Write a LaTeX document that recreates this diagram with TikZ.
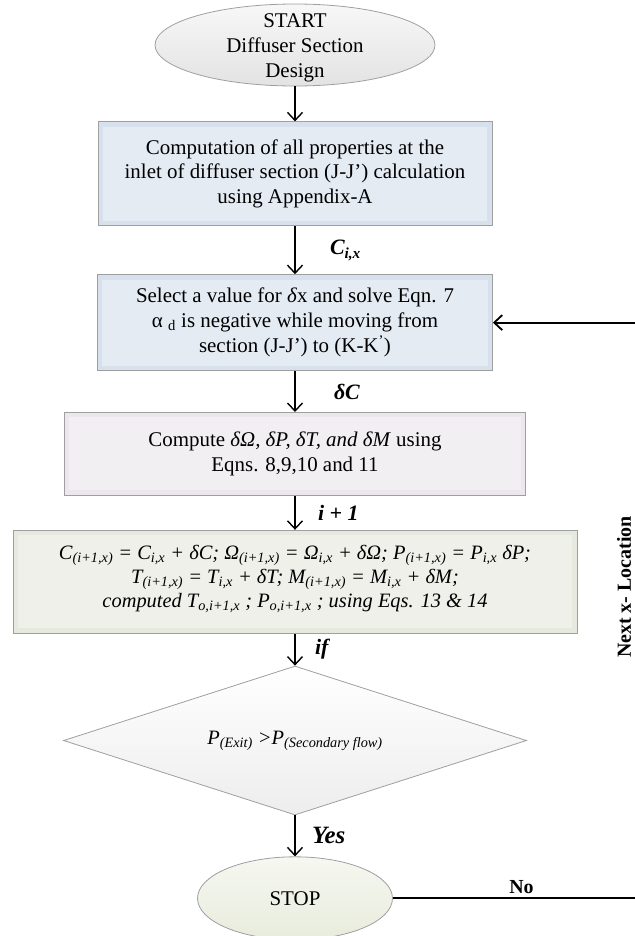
\documentclass[tikz,border=0pt]{standalone}
\usepackage{fontspec}
\setmainfont{Liberation Serif}
\usetikzlibrary{positioning,shapes.geometric,arrows.meta}
\definecolor{boxblue}{HTML}{D7E1EE}
\definecolor{boxpink}{HTML}{ECE7EC}
\definecolor{boxgreen}{HTML}{E6E9DE}
\definecolor{ovalgreen}{HTML}{E8ECDC}
\newcommand\sbs[1]{\textsubscript{#1}}
\begin{document}
\begin{tikzpicture}[x=1bp, y=-1bp, line width=1.4bp,
    main/.style = {draw=gray!75, line width=0.8bp, fill=#1, align=center, inner sep=2bp, font=\fontsize{21}{25}\selectfont},
    bevel/.style = {path picture={\fill[white, fill opacity=0.35] ([shift={(5bp,-5bp)}]path picture bounding box.north west) rectangle ([shift={(-5bp,5bp)}]path picture bounding box.south east);}},
    oval/.style = {main=#1, ellipse},
    flow/.style = {-{Straight Barb[length=8bp,width=15bp]}},
    lbl/.style = {font=\fontsize{22}{24}\selectfont\bfseries\itshape}]
    \useasboundingbox (0,0) rectangle (635,936);
    % flow chart
    \node[oval=white, top color=gray!6, bottom color=gray!22, minimum width=280bp, minimum height=82bp] (start) at (295,45) {};
    \node[align=center, font=\fontsize{21}{25}\selectfont] (starttext) at ([yshift=-3bp]start) {START\\Diffuser Section\\Design};
    \node[main=boxblue, bevel, minimum width=394bp, minimum height=104bp] (inlet) [below=35bp of start] {Computation of all properties at the\\inlet of diffuser section (J-J’) calculation\\using Appendix-A};
    \node[main=boxblue, bevel, minimum width=395bp, minimum height=96bp] (select) [below=48bp of inlet] {Select a value for \textit{δ}x and solve Eqn. 7\\α \sbs{d} is negative while moving from\\section (J-J’) to (K-K\textsuperscript{’})};
    \node[main=boxpink, bevel, minimum width=461bp, minimum height=83bp] (compute) [below=41bp of select] {Compute \textit{δΩ, δP, δT, and δM} using\\Eqns. 8,9,10 and 11};
    \node[main=boxgreen, bevel, minimum width=564bp, minimum height=103bp, font=\fontsize{20.5}{24}\selectfont\itshape] (update) [below=34bp of compute] {C\sbs{(i+1,x)} = C\sbs{i,x} + δC; Ω\sbs{(i+1,x)} = Ω\sbs{i,x} + δΩ; P\sbs{(i+1,x)} = P\sbs{i,x} δP;\\T\sbs{(i+1,x)} = T\sbs{i,x} + δT; M\sbs{(i+1,x)} = M\sbs{i,x} + δM;\\computed T\sbs{o,i+1,x} ; P\sbs{o,i+1,x} ; using Eqs. 13 \& 14\vspace{6bp}};
    \node[main=white, top color=white, bottom color=gray!14, diamond, aspect=3.1, inner sep=0pt, minimum width=463bp, minimum height=149bp, font=\fontsize{20.5}{22}\selectfont\itshape] (check) [below=32bp of update] {P\sbs{(Exit)} >P\sbs{(Secondary flow)}};
    \node[oval=white, top color=ovalgreen!40, bottom color=ovalgreen, minimum width=195bp, minimum height=83bp] (stop) [below=41bp of check] {STOP};
    \node[rotate=90, font=\fontsize{20}{22}\selectfont\bfseries] (next) at (624,587) {Next x- Location};
    \coordinate (bend) at (650,0);
    % connectors
    \draw[flow] (start) -- (inlet);
    \draw[flow] (inlet) -- node[lbl, right=31bp] {C\sbs{i,x}} (select);
    \draw[flow] (select) -- node[lbl, right=35bp] {δC} (compute);
    \draw[flow] (compute) -- node[lbl, right=19bp] {i + 1} (update);
    \draw[flow] (update) -- node[lbl, right=16bp] {if} (check);
    \draw[flow] (check) -- node[lbl, right=13bp, font=\fontsize{25}{26}\selectfont\bfseries\itshape] {Yes} (stop);
    \draw[flow, line width=1.8bp] (stop.east) -- node[above, font=\fontsize{20}{22}\selectfont\bfseries] {No} (stop.east -| bend) |- (select.east);
\end{tikzpicture}
\end{document}
